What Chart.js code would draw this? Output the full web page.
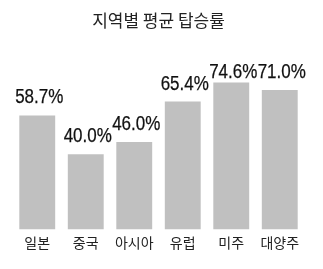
<!DOCTYPE html>
<html>
<head>
<meta charset="utf-8">
<script src="https://cdn.jsdelivr.net/npm/chart.js@4"></script>
<style>
  html, body { margin: 0; padding: 0; background: #fff; }
  #wrap { width: 323px; height: 269px; }
</style>
</head>
<body>
<div id="wrap"><canvas id="barChart"></canvas></div>
<script>
const categories = ['일본', '중국', '아시아', '유럽', '미주', '대양주'];
const loadRates = [58.7, 40.0, 46.0, 65.4, 74.6, 71.0];

// small inline plugin: value labels above each bar
// (the top labels get squeezed under the title, like in the print version)
// no narrow font installed, so squeeze the glyphs horizontally instead
const valueLabels = {
    id: 'valueLabels',
    afterDatasetsDraw(chart) {
        const ctx = chart.ctx;
        const meta = chart.getDatasetMeta(0);
        const lowest = chart.chartArea.top + 28;
        const squeeze = 0.85;
        ctx.save();
        ctx.font = '20px "Liberation Sans", sans-serif';
        ctx.fillStyle = '#111';
        ctx.strokeStyle = '#111';
        ctx.lineWidth = 0.25;
        ctx.textAlign = 'center';
        ctx.textBaseline = 'alphabetic';
        meta.data.forEach((bar, i) => {
            const y = Math.max(bar.y - 12, lowest);
            const txt = loadRates[i].toFixed(1) + '%';
            ctx.save();
            ctx.translate(bar.x + 2, y);
            ctx.scale(squeeze, 1);
            ctx.fillText(txt, 0, 0);
            ctx.strokeText(txt, 0, 0);
            ctx.restore();
        });
        ctx.restore();
    }
};

const bc = document.getElementById('barChart');

if (bc) {
    new Chart(bc, {
        type: 'bar',
        data: {
            labels: categories,
            datasets: [
                {
                    label: '평균 탑승률',
                    data: loadRates,
                    backgroundColor: '#c0c0c0',
                    barPercentage: 0.74,
                    categoryPercentage: 1.0,
                },
            ],
        },
        options: {
            responsive: true,
            maintainAspectRatio: false,
            animation: false,
            layout: { padding: { left: 13, right: 19, top: 0, bottom: 13 } },
            scales: {
                x: {
                    grid: { display: false, drawTicks: false },
                    border: { display: false },
                    ticks: {
                        color: '#222',
                        padding: 5,
                        font: { family: '"Noto Sans CJK KR", sans-serif', size: 14 },
                    },
                },
                y: {
                    display: false,
                    min: 4,
                    max: 90,
                },
            },
            plugins: {
                legend: { display: false },
                tooltip: { enabled: false },
                title: {
                    display: true,
                    text: '지역별 평균 탑승률',
                    color: '#222',
                    font: { family: '"Noto Sans CJK KR", sans-serif', size: 17, weight: 'normal' },
                    padding: { top: 10, bottom: 20 },
                },
            },
        },
        plugins: [valueLabels],
    });
}
</script>
</body>
</html>
